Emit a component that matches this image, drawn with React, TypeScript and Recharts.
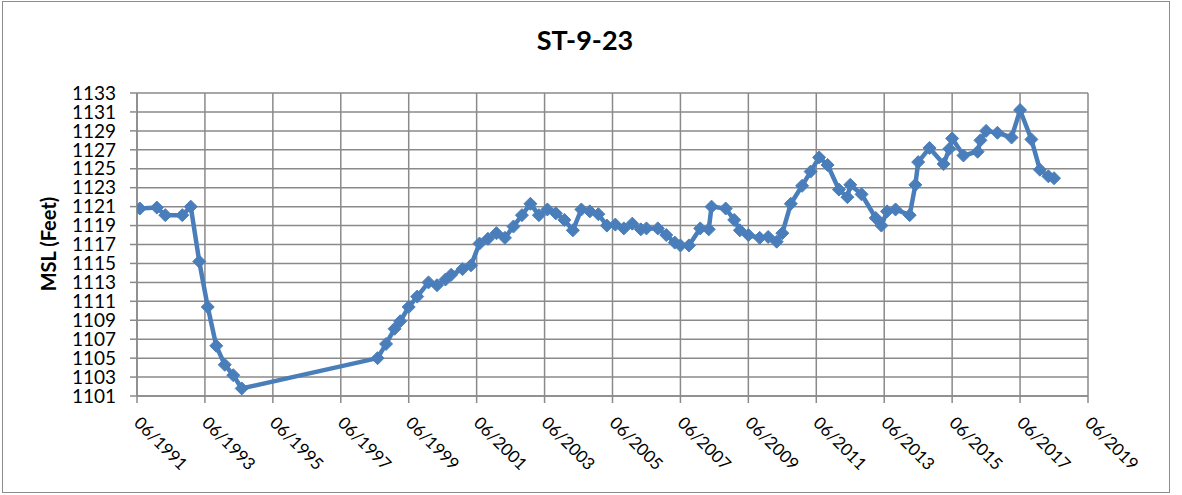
import { LineChart, Line, XAxis, YAxis, CartesianGrid } from "recharts";

const dates = [
  "1991-07", "1992-01", "1992-04", "1992-10", "1993-01", "1993-04", "1993-07", "1993-10",
  "1994-01", "1994-04", "1994-07", "1998-07", "1998-10", "1999-01", "1999-03", "1999-06",
  "1999-09", "2000-01", "2000-04", "2000-07", "2000-09", "2001-01", "2001-04", "2001-07",
  "2001-10", "2002-01", "2002-04", "2002-07", "2002-10", "2003-01", "2003-04", "2003-07",
  "2003-10", "2004-01", "2004-04", "2004-07", "2004-10", "2005-01", "2005-04", "2005-07",
  "2005-10", "2006-01", "2006-04", "2006-06", "2006-10", "2007-01", "2007-04", "2007-06",
  "2007-09", "2008-01", "2008-04", "2008-05", "2008-10", "2009-01", "2009-03", "2009-06",
  "2009-10", "2010-01", "2010-04", "2010-06", "2010-09", "2011-01", "2011-04", "2011-07",
  "2011-10", "2012-02", "2012-05", "2012-06", "2012-10", "2013-03", "2013-05", "2013-07",
  "2013-10", "2014-03", "2014-05", "2014-06", "2014-10", "2015-03", "2015-05", "2015-06",
  "2015-10", "2016-03", "2016-04", "2016-06", "2016-10", "2017-03", "2017-06", "2017-10",
  "2018-01", "2018-04", "2018-06",
];

const levels = [
  1120.8, 1120.9, 1120.1, 1120.1, 1121.0, 1115.2, 1110.4, 1106.3,
  1104.3, 1103.2, 1101.8, 1105.0, 1106.5, 1108.1, 1108.9, 1110.4,
  1111.5, 1113.0, 1112.7, 1113.3, 1113.8, 1114.4, 1114.8, 1117.1,
  1117.6, 1118.2, 1117.7, 1118.9, 1120.1, 1121.3, 1120.1, 1120.7,
  1120.3, 1119.6, 1118.5, 1120.7, 1120.5, 1120.2, 1119.0, 1119.1,
  1118.7, 1119.2, 1118.6, 1118.7, 1118.7, 1118.0, 1117.2, 1116.9,
  1116.9, 1118.7, 1118.6, 1121.0, 1120.8, 1119.6, 1118.5, 1118.0,
  1117.7, 1117.8, 1117.3, 1118.2, 1121.3, 1123.2, 1124.7, 1126.2,
  1125.4, 1122.8, 1122.0, 1123.3, 1122.3, 1119.8, 1119.0, 1120.5,
  1120.7, 1120.1, 1123.3, 1125.7, 1127.2, 1125.5, 1127.1, 1128.2,
  1126.4, 1126.8, 1128.0, 1129.0, 1128.8, 1128.3, 1131.2, 1128.1,
  1124.9, 1124.2, 1124.0,
];

const tickYears = [1991, 1993, 1995, 1997, 1999, 2001, 2003, 2005, 2007, 2009, 2011, 2013, 2015, 2017, 2019];
const yTicks = [1101, 1103, 1105, 1107, 1109, 1111, 1113, 1115, 1117, 1119, 1121, 1123, 1125, 1127, 1129, 1131, 1133];

const JUNE = 5 / 12;
const toYear = (d: string) => {
  const [y, m] = d.split("-").map(Number);
  return y + (m - 1) / 12;
};

const data = dates.map((d, i) => ({ t: toYear(d), msl: levels[i] }));
const xTicks = tickYears.map((y) => y + JUNE);

const FONT = "Lato, 'Open Sans', sans-serif";
const BLUE = "#4A7EBB";
const GRID = "#8a8a8a";

const Diamond = (props: any) => {
  const { cx, cy } = props;
  if (cx == null || cy == null) return null;
  const r = 6.5;
  return (
    <polygon
      points={`${cx},${cy - r} ${cx + r},${cy} ${cx},${cy + r} ${cx - r},${cy}`}
      fill={BLUE}
      stroke={BLUE}
      strokeWidth={1}
    />
  );
};

const XTick = (props: any) => {
  const { x, y, payload } = props;
  const label = "06/" + Math.round(payload.value - JUNE);
  const tx = x - 4;
  const ty = y + 19;
  return (
    <text
      x={tx}
      y={ty}
      transform={`rotate(45, ${tx}, ${ty})`}
      textAnchor="start"
      fontFamily={FONT}
      fontSize={17}
      fill="#000"
    >
      {label}
    </text>
  );
};

const App = () => {
  return (
    <div style={{ position: "absolute", left: 0, top: 0, width: 1182, height: 495, background: "#fff" }}>
      <div
        style={{
          position: "absolute",
          left: 2,
          top: 1,
          width: 1166,
          height: 490,
          border: "1.5px solid #8c8c8c",
        }}
      />
      <div
        style={{
          position: "absolute",
          left: 2,
          top: 22,
          width: 1166,
          textAlign: "center",
          fontFamily: FONT,
          fontWeight: 700,
          fontSize: 27,
          lineHeight: "36px",
          color: "#000",
        }}
      >
        ST-9-23
      </div>
      <div style={{ position: "absolute", left: 0, top: 0 }}>
        <LineChart width={1182} height={495} data={data} margin={{ top: 93, right: 94, left: 0, bottom: 0 }}>
          <CartesianGrid stroke={GRID} strokeWidth={1.5} />
          <XAxis
            dataKey="t"
            type="number"
            domain={[1991 + JUNE, 2019 + JUNE]}
            ticks={xTicks}
            tick={<XTick />}
            tickSize={7}
            height={99}
            stroke={GRID}
            strokeWidth={1.5}
            interval={0}
            allowDataOverflow
          />
          <YAxis
            type="number"
            domain={[1101, 1133]}
            ticks={yTicks}
            interval={0}
            width={137}
            tickSize={7}
            tickMargin={14}
            stroke={GRID}
            strokeWidth={1.5}
            tick={{ fill: "#000", fontSize: 19, fontFamily: FONT }}
            label={{
              content: () => (
                <text
                  x={48}
                  y={244}
                  transform="rotate(-90, 48, 244)"
                  textAnchor="middle"
                  dominantBaseline="central"
                  fontFamily={FONT}
                  fontWeight={700}
                  fontSize={20}
                  fill="#000"
                >
                  MSL (Feet)
                </text>
              ),
            }}
          />
          <Line
            type="linear"
            dataKey="msl"
            stroke={BLUE}
            strokeWidth={4.5}
            dot={<Diamond />}
            activeDot={false}
            isAnimationActive={false}
          />
        </LineChart>
      </div>
    </div>
  );
};

export default App;
